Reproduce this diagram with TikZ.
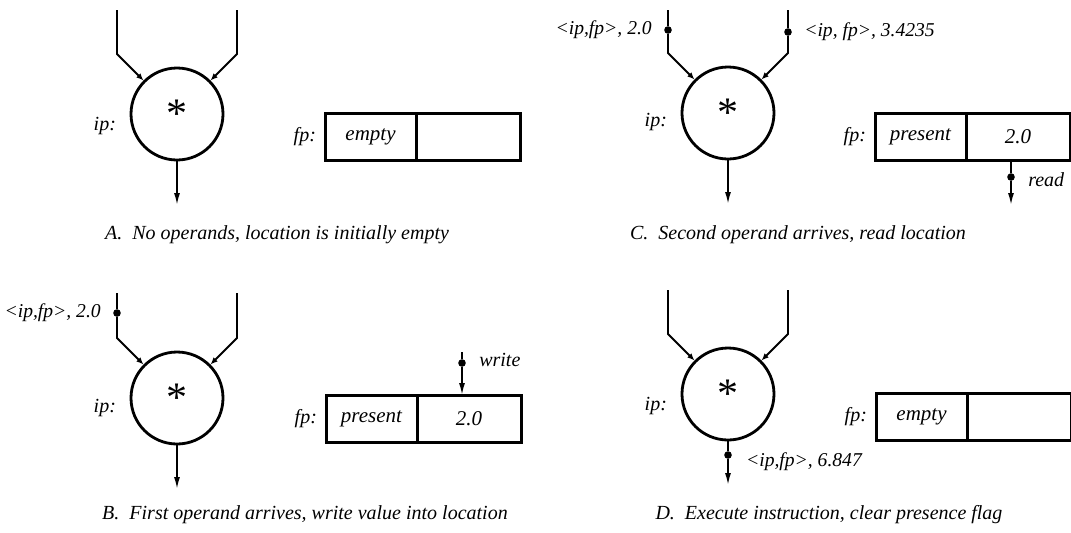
\documentclass[tikz,border=0pt]{standalone}
\usepackage{fontspec}
\setmainfont{Liberation Serif}
\usetikzlibrary{positioning, calc, arrows.meta}

\tikzset{
  op/.style={draw, circle, line width=1.4pt, minimum size=46pt, inner sep=0pt,
    font=\fontsize{21}{21}\selectfont\upshape},
  cell/.style={draw, line width=1.5pt, minimum height=23.5pt, inner sep=0pt, outer sep=0pt,
    font=\fontsize{10.5}{12}\selectfont\itshape},
  state/.style={cell, minimum width=45.5pt},
  value/.style={cell, minimum width=52pt, anchor=west},
  wire/.style={line width=0.9pt, -{Latex[length=3.6pt,width=3pt]}},
  flow/.style={line width=0.8pt, -{Latex[length=6pt,width=3pt]}},
  token/.style={circle, fill, inner sep=0pt, minimum size=3.8pt},
  tuple/.style={font=\fontsize{9.8}{11}\selectfont\itshape},
  caption/.style={font=\fontsize{10}{12}\selectfont\itshape},
}

\begin{document}
\begin{tikzpicture}[x=0.5pt, y=0.5pt, font=\itshape]
    \useasboundingbox (0,0) rectangle (1071,-532);

    % A: no operands, location empty
    \node[op] (opA) at (177,-114) {*};
    \coordinate (inlA) at (117,-10);
    \coordinate (bendlA) at (117,-54);
    \coordinate (inrA) at (237,-10);
    \coordinate (bendrA) at (237,-54);
    \coordinate (outA) at (177,-205);
    \draw[wire] (inlA) -- (bendlA) -- (opA.135);
    \draw[wire] (inrA) -- (bendrA) -- (opA.45);
    \draw[flow] (opA.south) -- (outA);
    \node[anchor=east] (ipA) at (123,-126) {ip:};
    \node[state, anchor=north west] (stA) at (325,-113) {empty};
    \node[value] (valA) at (stA.east) {};
    \node[left=1pt of stA] (fpA) {fp:};
    \node[caption] (capA) at (277,-235) {A.\ \ No operands, location is initially empty};

    % B: first operand arrives, write
    \node[op] (opB) at (177,-398) {*};
    \coordinate (inlB) at (117,-293);
    \node[token] (tkB1) at (117,-313) {};
    \coordinate (bendlB) at (117,-338);
    \coordinate (inrB) at (237,-293);
    \coordinate (bendrB) at (237,-338);
    \coordinate (outB) at (177,-489);
    \draw[wire] (inlB) -- (tkB1) -- (bendlB) -- (opB.135);
    \draw[wire] (inrB) -- (bendrB) -- (opB.45);
    \draw[flow] (opB.south) -- (outB);
    \node[tuple, left=2.5pt of tkB1] (lblB1) {<ip,fp>, 2.0};
    \node[anchor=east] (ipB) at (123,-408) {ip:};
    \node[state, anchor=north west] (stB) at (326,-395) {present};
    \node[value] (valB) at (stB.east) {2.0};
    \node[left=1pt of stB] (fpB) {fp:};
    \coordinate (wrB) at (462,-352);
    \node[token] (tkB2) at (462,-363) {};
    \draw[flow] (wrB) -- (tkB2) -- (wrB |- valB.north);
    \node[right=3pt of tkB2, yshift=1.5pt] (lblB2) {write};
    \node[caption] (capB) at (305,-515) {B.\ \ First operand arrives, write value into location};

    % C: second operand arrives, read
    \node[op] (opC) at (728,-113) {*};
    \coordinate (inlC) at (668,-10);
    \node[token] (tkC1) at (668,-30) {};
    \coordinate (bendlC) at (668,-53);
    \coordinate (inrC) at (788,-10);
    \node[token] (tkC2) at (788,-32) {};
    \coordinate (bendrC) at (788,-53);
    \coordinate (outC) at (728,-204);
    \draw[wire] (inlC) -- (tkC1) -- (bendlC) -- (opC.135);
    \draw[wire] (inrC) -- (tkC2) -- (bendrC) -- (opC.45);
    \draw[flow] (opC.south) -- (outC);
    \node[tuple, left=2.5pt of tkC1] (lblC1) {<ip,fp>, 2.0};
    \node[tuple, right=2.5pt of tkC2] (lblC2) {<ip, fp>, 3.4235};
    \node[anchor=east] (ipC) at (674,-122) {ip:};
    \node[state, anchor=north west] (stC) at (875,-113) {present};
    \node[value] (valC) at (stC.east) {2.0};
    \node[left=1pt of stC] (fpC) {fp:};
    \node[token] (tkC3) at (1011,-177) {};
    \coordinate (rdC) at (1011,-205);
    \draw[flow] (rdC |- valC.south) -- (tkC3) -- (rdC);
    \node[right=3pt of tkC3, yshift=-1.5pt] (lblC3) {read};
    \node[caption] (capC) at (798,-235) {C.\ \ Second operand arrives, read location};

    % D: execute, clear presence flag
    \node[op] (opD) at (728,-394) {*};
    \coordinate (inlD) at (668,-290);
    \coordinate (bendlD) at (668,-334);
    \coordinate (inrD) at (788,-290);
    \coordinate (bendrD) at (788,-334);
    \node[token] (tkD) at (728,-455) {};
    \coordinate (outD) at (728,-485);
    \draw[wire] (inlD) -- (bendlD) -- (opD.135);
    \draw[wire] (inrD) -- (bendrD) -- (opD.45);
    \draw[flow] (opD.south) -- (tkD) -- (outD);
    \node[tuple, right=3.4pt of tkD, yshift=-3.5pt] (lblD) {<ip,fp>, 6.847};
    \node[anchor=east] (ipD) at (674,-406) {ip:};
    \node[state, anchor=north west] (stD) at (876,-393) {empty};
    \node[value] (valD) at (stD.east) {};
    \node[left=1pt of stD] (fpD) {fp:};
    \node[caption] (capD) at (829,-515) {D.\ \ Execute instruction, clear presence flag};
\end{tikzpicture}
\end{document}
